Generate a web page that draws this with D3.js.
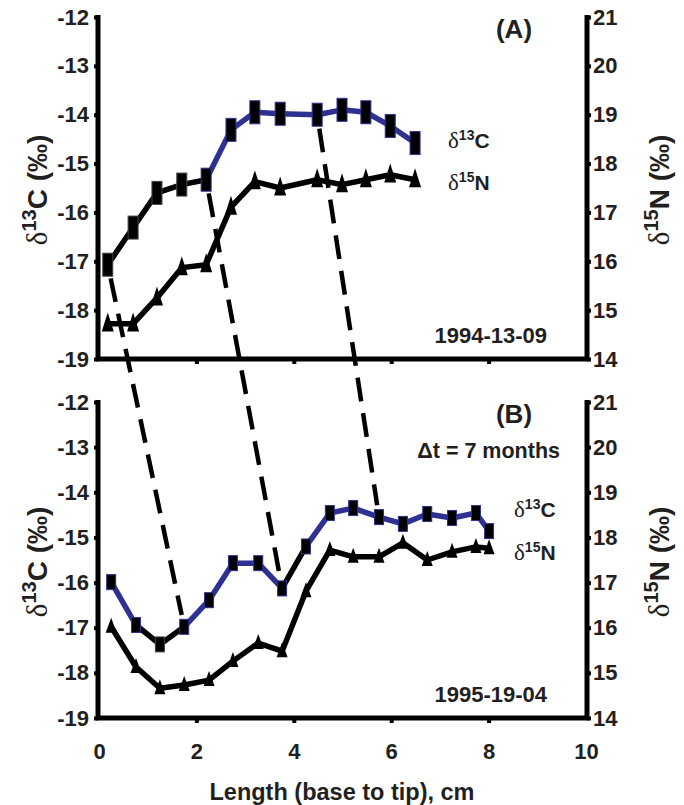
<!DOCTYPE html>
<html>
<head>
<meta charset="utf-8">
<script src="https://cdn.jsdelivr.net/npm/d3@7"></script>
<style>
  body { margin: 0; background: #fff; }
  svg text { fill: #231f20; }
  .tk text { font-family: "Liberation Sans", Arial, sans-serif; font-weight: bold; font-size: 22px; }
</style>
</head>
<body>
<div id="chart"></div>
<script>
// hair isotope profiles, two samples 7 months apart
var lengthA = [0.18, 0.70, 1.19, 1.70, 2.20, 2.71, 3.20, 3.72, 4.48, 4.99, 5.48, 5.98, 6.49];
var carbonA = [-17.07, -16.31, -15.6, -15.43, -15.33, -14.31, -13.95, -13.98, -14.0, -13.9, -13.95, -14.23, -14.58];
var nitrogenA = [14.72, 14.72, 15.25, 15.87, 15.93, 17.11, 17.63, 17.5, 17.67, 17.57, 17.67, 17.77, 17.67];

var lengthB = [0.25, 0.76, 1.25, 1.75, 2.26, 2.75, 3.27, 3.76, 4.25, 4.74, 5.22, 5.75, 6.24, 6.74, 7.25, 7.74, 8.01];
var carbonB = [-15.99, -16.94, -17.37, -16.98, -16.39, -15.57, -15.57, -16.13, -15.2, -14.46, -14.35, -14.55, -14.7, -14.48, -14.57, -14.46, -14.86];
var nitrogenB = [16.02, 15.13, 14.66, 14.73, 14.84, 15.26, 15.66, 15.48, 16.81, 17.72, 17.57, 17.57, 17.88, 17.5, 17.68, 17.79, 17.76];

var xTicks = [0, 2, 4, 6, 8, 10];
var carbonTicks = [-19, -18, -17, -16, -15, -14, -13, -12];
var nitrogenTicks = [14, 15, 16, 17, 18, 19, 20, 21];

// which carbon points (A index -> B index) are linked by the dashed lines
var links = [[0, 3], [4, 7], [8, 11]];

var blue = "#2e3192";
var ink = "#000";

var width = 684, height = 805;
var svg = d3.select("#chart").append("svg")
    .attr("width", width).attr("height", height);

var x = d3.scaleLinear().domain([0, 10]).range([99, 586]);
var fmt = function(d) { return String(d); };

var panels = [
  {top: 17, bottom: 359, len: lengthA, c: carbonA, n: nitrogenA,
   blackSeg: [0, 1, 2, 3], label: "(A)", date: "1994-13-09",
   sq: [10, 23], tri: [12, 19]},
  {top: 402, bottom: 718, len: lengthB, c: carbonB, n: nitrogenB,
   blackSeg: [1, 2, 7], label: "(B)", date: "1995-19-04",
   sq: [9, 15], tri: [11, 15]}
];

panels.forEach(function(p) {
  p.yc = d3.scaleLinear().domain([-19, -12]).range([p.bottom, p.top]);
  p.yn = d3.scaleLinear().domain([14, 21]).range([p.bottom, p.top]);
});

// dashed connectors between the two samples
links.forEach(function(l) {
  var a = panels[0], b = panels[1];
  var x1 = x(a.len[l[0]]), y1 = a.yc(a.c[l[0]]);
  var x2 = x(b.len[l[1]]), y2 = b.yc(b.c[l[1]]);
  var d = Math.hypot(x2 - x1, y2 - y1);
  var s = 14 / d, e = 12 / d;
  svg.append("line")
    .attr("x1", x1 + (x2 - x1) * s).attr("y1", y1 + (y2 - y1) * s)
    .attr("x2", x2 - (x2 - x1) * e).attr("y2", y2 - (y2 - y1) * e)
    .attr("stroke", ink).attr("stroke-width", 4.5)
    .attr("stroke-dasharray", "24,12");
});

function drawPanel(p, i) {
  var g = svg.append("g");

  // axes
  var left = g.append("g").attr("class", "tk")
    .attr("transform", "translate(98,0)")
    .call(d3.axisLeft(p.yc).tickValues(carbonTicks).tickFormat(fmt).tickSize(4).tickPadding(5).tickSizeOuter(0));
  var right = g.append("g").attr("class", "tk")
    .attr("transform", "translate(587,0)")
    .call(d3.axisRight(p.yn).tickValues(nitrogenTicks).tickFormat(fmt).tickSize(4).tickPadding(2).tickSizeOuter(0));
  var bot = g.append("g").attr("class", "tk")
    .attr("transform", "translate(0," + p.bottom + ")")
    .call(d3.axisBottom(x).tickValues(xTicks).tickFormat(fmt).tickSize(5).tickPadding(20).tickSizeOuter(0));
  if (i == 0) bot.selectAll("text").remove();
  // keep end ticks off the corners
  bot.selectAll(".tick").filter(function(d) { return d == 0 || d == 10; }).select("line").remove();

  [left, right, bot].forEach(function(ax) {
    ax.select(".domain").attr("stroke", ink).attr("stroke-width", 5);
    ax.selectAll(".tick line").attr("stroke", ink).attr("stroke-width", 4);
    ax.selectAll(".tick text").attr("fill", "#231f20");
  });
  left.select(".domain").attr("d", "M0," + (p.top - 2) + "V" + (p.bottom + 2));
  right.select(".domain").attr("d", "M0," + (p.top - 2) + "V" + (p.bottom + 2));
  bot.select(".domain").attr("d", "M96,0H589");

  // nitrogen line + triangles
  var lineN = d3.line().x(function(d, k) { return x(p.len[k]); }).y(function(d) { return p.yn(d); });
  g.append("path").datum(p.n).attr("d", lineN)
    .attr("fill", "none").attr("stroke", ink).attr("stroke-width", 5.5).attr("stroke-linejoin", "round");
  var tw = p.tri[0], th = p.tri[1];
  g.selectAll(".tri").data(p.n).enter().append("path")
    .attr("d", function(d, k) {
      var cx = x(p.len[k]), cy = p.yn(d);
      return "M" + cx + "," + (cy - th * 0.6) + "L" + (cx + tw / 2) + "," + (cy + th * 0.4) +
             "L" + (cx - tw / 2) + "," + (cy + th * 0.4) + "Z";
    })
    .attr("fill", ink);

  // carbon line, segment by segment (some drawn black)
  for (var k = 0; k < p.c.length - 1; k++) {
    g.append("line")
      .attr("x1", x(p.len[k])).attr("y1", p.yc(p.c[k]))
      .attr("x2", x(p.len[k + 1])).attr("y2", p.yc(p.c[k + 1]))
      .attr("stroke", p.blackSeg.indexOf(k) >= 0 ? ink : blue)
      .attr("stroke-width", 5.5).attr("stroke-linecap", "round");
  }
  var sw = p.sq[0], sh = p.sq[1];
  g.selectAll(".sq").data(p.c).enter().append("rect")
    .attr("x", function(d, k) { return x(p.len[k]) - sw / 2; })
    .attr("y", function(d) { return p.yc(d) - sh / 2; })
    .attr("width", sw).attr("height", sh)
    .attr("fill", ink)
    .attr("stroke", function(d, k) {
      var nb = p.blackSeg.indexOf(k - 1) >= 0 || k == 0 && p.blackSeg.indexOf(0) >= 0;
      var na = p.blackSeg.indexOf(k) >= 0 || k == p.c.length - 1;
      return (nb && (na || k == p.c.length - 1)) ? "#444" : blue;
    })
    .attr("stroke-width", 1);

  // texts
  g.append("text").attr("x", 514).attr("y", p.top + 21)
    .attr("text-anchor", "middle")
    .style("font", "bold 26px 'Liberation Sans', Arial, sans-serif")
    .text(p.label);
  g.append("text").attr("x", 547).attr("y", p.bottom - 16)
    .attr("text-anchor", "end")
    .style("font", "bold 22px 'Liberation Sans', Arial, sans-serif")
    .text(p.date);

  // y titles
  yTitle(g, 36, (p.top + p.bottom) / 2 + 2, "13", "C");
  yTitle(g, 658, (p.top + p.bottom) / 2 + 2, "15", "N");
}

function yTitle(g, cx, cy, iso, el) {
  var t = g.append("text")
    .attr("transform", "translate(" + (cx + 11) + "," + cy + ") rotate(-90)")
    .attr("text-anchor", "middle");
  t.append("tspan").style("font", "29px 'Liberation Serif', serif").text("δ");
  t.append("tspan").attr("dy", -11).style("font", "bold 20px 'Liberation Sans', Arial, sans-serif").text(iso);
  t.append("tspan").attr("dy", 11).style("font", "bold 28px 'Liberation Sans', Arial, sans-serif").text(el + " (‰)");
}

function legendLabel(xp, yp, iso, el) {
  var t = svg.append("text").attr("x", xp).attr("y", yp);
  t.append("tspan").style("font", "23px 'Liberation Serif', serif").text("δ");
  t.append("tspan").attr("dy", -8).style("font", "bold 14px 'Liberation Sans', Arial, sans-serif").text(iso);
  t.append("tspan").attr("dy", 8).style("font", "bold 21px 'Liberation Sans', Arial, sans-serif").text(el);
}

panels.forEach(drawPanel);

legendLabel(448, 148, "13", "C");
legendLabel(448, 190, "15", "N");
legendLabel(514, 517, "13", "C");
legendLabel(514, 560, "15", "N");

svg.append("text").attr("x", 560).attr("y", 458).attr("text-anchor", "end")
  .style("font", "bold 21.5px 'Liberation Sans', Arial, sans-serif")
  .text("Δt = 7 months");

svg.append("text").attr("x", 342).attr("y", 800).attr("text-anchor", "middle")
  .style("font", "bold 23.5px 'Liberation Sans', Arial, sans-serif")
  .text("Length (base to tip), cm");
</script>
</body>
</html>
